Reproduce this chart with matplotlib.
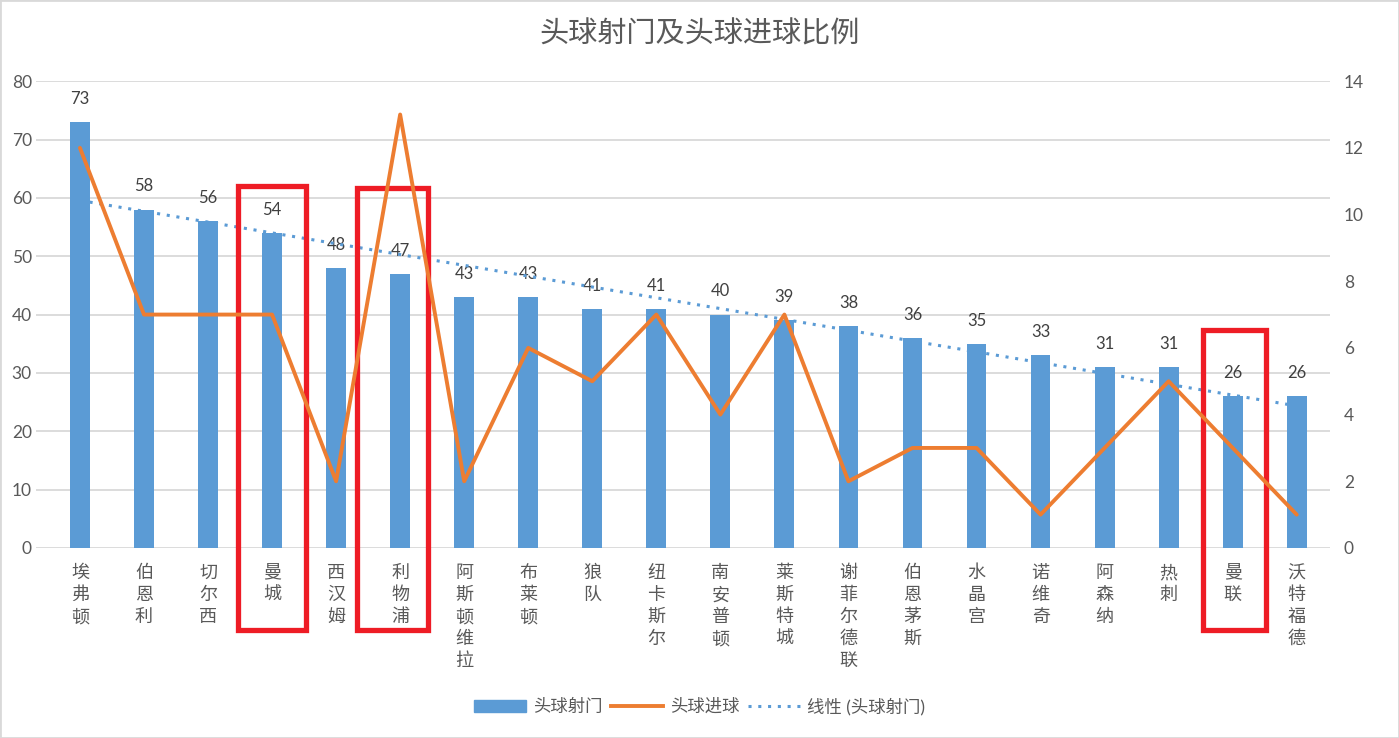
import numpy as np
import matplotlib
matplotlib.use("Agg")
import matplotlib.pyplot as plt
from matplotlib.patches import Rectangle, Patch
from matplotlib.lines import Line2D

plt.rcParams["font.family"] = ["Lato", "Noto Sans CJK SC", "DejaVu Sans"]

# Data
teams = ["埃弗顿", "伯恩利", "切尔西", "曼城", "西汉姆", "利物浦", "阿斯顿维拉",
         "布莱顿", "狼队", "纽卡斯尔", "南安普顿", "莱斯特城", "谢菲尔德联",
         "伯恩茅斯", "水晶宫", "诺维奇", "阿森纳", "热刺", "曼联", "沃特福德"]
header_shots = [73, 58, 56, 54, 48, 47, 43, 43, 41, 41, 40, 39, 38, 36, 35, 33, 31, 31, 26, 26]
header_goals = [12, 7, 7, 7, 2, 13, 2, 6, 5, 7, 4, 7, 2, 3, 3, 1, 3, 5, 3, 1]
highlight = ["曼城", "利物浦", "曼联"]

BLUE = "#5B9BD5"
ORANGE = "#ED7D31"
TXT = "#595959"
GRID = "#D9D9D9"

fig = plt.figure(figsize=(13.99, 7.38), dpi=100)
ax = fig.add_axes([0.0257, 0.2575, 0.925, 0.6325])
ax2 = ax.twinx()

x = np.arange(len(teams))
ax.bar(x, header_shots, width=0.31, color=BLUE, zorder=2)
for xi, v in zip(x, header_shots):
    ax.text(xi, v + 2.6, str(v), ha="center", va="bottom", fontsize=12, color="#404040")

# linear trend of shots
k, b = np.polyfit(x, header_shots, 1)
ax.plot(x, k * x + b, linestyle=(0, (1, 2.2)), color=BLUE, lw=2.2, zorder=3)

ax2.plot(x, header_goals, color=ORANGE, lw=2.8, solid_capstyle="round", zorder=4)

ax.set_ylim(0, 80)
ax.set_yticks(range(0, 81, 10))
ax2.set_ylim(0, 14)
ax2.set_yticks(range(0, 15, 2))
ax.set_xlim(-0.687, 19.52)
ax.set_xticks([])
ax.yaxis.grid(True, color=GRID, lw=1.3)
ax.set_axisbelow(True)
for a in (ax, ax2):
    for s in a.spines.values():
        s.set_visible(False)
    a.tick_params(axis="y", length=0, labelsize=12.5, labelcolor=TXT)
ax.tick_params(axis="y", pad=3)
ax2.tick_params(axis="y", pad=10)

# vertical category labels
for xi, t in zip(x, teams):
    ax.text(xi, -2.8, "\n".join(t), ha="center", va="top", fontsize=13,
            color=TXT, linespacing=1.28, family=["Noto Sans CJK SC"])

# red highlight boxes
boxes = {"曼城": (-0.53, 0.53, 62.0), "利物浦": (-0.67, 0.44, 61.7), "曼联": (-0.47, 0.52, 37.3)}
for name in highlight:
    i = teams.index(name)
    l, r, top = boxes[name]
    bottom = -14.0
    ax.add_patch(Rectangle((i + l, bottom), r - l, top - bottom, fill=False,
                           edgecolor="#EE1C25", lw=3.8, clip_on=False, zorder=6))

fig.suptitle("头球射门及头球进球比例", y=0.974, fontsize=21, color=TXT,
             family=["Noto Sans CJK SC"])

handles = [Patch(facecolor=BLUE, edgecolor=BLUE),
           Line2D([0], [0], color=ORANGE, lw=2.8),
           Line2D([0], [0], color=BLUE, lw=2.2, linestyle=(0, (1, 2.2)))]
leg = fig.legend(handles, ["头球射门", "头球进球", "线性 (头球射门)"], loc="center",
                 bbox_to_anchor=(0.5, 0.043), ncol=3, frameon=False, fontsize=12.5,
                 handlelength=3.0, handletextpad=0.4, columnspacing=0.5)
for t in leg.get_texts():
    t.set_color(TXT)

fig.patches.append(Rectangle((0, 0), 1, 1, transform=fig.transFigure, fill=False,
                             edgecolor=GRID, lw=2))

fig.savefig("out.png", dpi=100)
